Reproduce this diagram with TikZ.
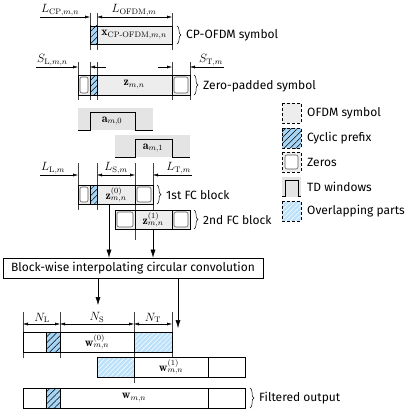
\documentclass[tikz,border=0pt]{standalone}
\usepackage{amsmath}
\usepackage{fontspec}
\setsansfont{Fira Sans}
\usepackage{tikz}
\usetikzlibrary{patterns.meta,decorations.pathreplacing,arrows.meta}

\definecolor{symgray}{HTML}{EDEDED}
\definecolor{wingray}{HTML}{E4E4E4}
\definecolor{cpblue}{HTML}{A6D5F5}
\definecolor{ovblue}{HTML}{BCE1FA}
\definecolor{zerogray}{HTML}{5A5A5A}

\tikzset{
  every node/.style={font=\fontsize{12}{14}\selectfont},
  block/.style={draw, line width=0.9pt},
  sep/.style={line width=0.5pt},
  tick/.style={line width=0.35pt, black!75},
  dim/.style={line width=0.4pt, arrows={-Latex[length=5pt,width=3pt]}},
  dimb/.style={line width=0.4pt, arrows={Latex[length=5pt,width=3pt]-Latex[length=5pt,width=3pt]}},
  flow/.style={line width=0.5pt, arrows={-Latex[length=8pt,width=5pt]}},
  cp/.style={fill=cpblue, postaction={pattern={Lines[angle=45,distance=4.3pt,line width=0.5pt]}, pattern color=black}},
  ovl/.style={fill=ovblue, postaction={pattern={Lines[angle=45,distance=3.4pt,line width=0.55pt]}, pattern color=white}},
  zero/.style={draw=zerogray, fill=white, rounded corners=2pt, line width=0.6pt},
  window/.style={line width=1pt},
  brc/.style={decorate, decoration={brace, amplitude=4pt}, line width=0.5pt},
  txt/.style={font=\sffamily\fontsize{12}{14}\selectfont, anchor=west, inner sep=0pt},
  legbox/.style={draw, line width=0.5pt, dash pattern=on 3pt off 2pt},
}

\begin{document}
\begin{tikzpicture}[x=1pt,y=-1pt]
\useasboundingbox (0,0) rectangle (407,420);

% ticks
\foreach \x in {90,97,172} \draw[tick] (\x,13) -- (\x,50);
\foreach \x in {78,90,97,172,190} \draw[tick] (\x,62) -- (\x,100);
\foreach \x in {78,97,153} \draw[tick] (\x,163) -- (\x,210);
\draw[tick] (135,163) -- (135,240);
\foreach \x in {23,60,172} \draw[tick] (\x,312) -- (\x,358);
\draw[tick] (134,312) -- (134,383);

% CP-OFDM symbol
\fill[symgray] (97,26) rectangle (172,44);
\path[cp] (90,26) rectangle (97,44);
\draw[block] (90,26) rectangle (172,44);
\draw[sep] (97,26) -- (97,44);
\node (xsym) at (134,35) {$\mathbf{x}_{\text{CP-OFDM},m,n}$};

\draw[dim] (40,17) -- (90,17);
\node[above right, inner sep=1pt] (lcp) at (40,17) {$L_{\mathrm{CP},m,n}$};
\draw[dimb] (97,17) -- (172,17);
\node[above, inner sep=1pt] (lofdm) at (134,17) {$L_{\mathrm{OFDM},m}$};

\draw[brc] (177,26) -- (177,44);
\node[txt] (cplbl) at (186,35) {CP-OFDM symbol};

% zero-padded symbol
\fill[symgray] (78,75) rectangle (190,95);
\path[cp] (90,75) rectangle (97,95);
\draw[zero] (80,77) rectangle (88,93);
\draw[zero] (174,77) rectangle (188,93);
\draw[block] (78,75) rectangle (190,95);
\draw[sep] (90,75) -- (90,95);
\draw[sep] (97,75) -- (97,95);
\draw[sep] (172,75) -- (172,95);
\node (zsym) at (134,85) {$\mathbf{z}_{m,n}$};

\draw[dim] (36,67) -- (78,67);
\node[above right, inner sep=1pt] (sl) at (36,67) {$S_{\mathrm{L},m,n}$};
\draw[dim] (106,67) -- (90,67);
\draw[dim] (158,67) -- (172,67);
\draw[dim] (224,67) -- (190,67);
\node[above left, inner sep=1pt] (st) at (224,67) {$S_{\mathrm{T},m}$};

\draw[brc] (194,75) -- (194,95);
\node[txt] (zplbl) at (203,86) {Zero-padded symbol};

% TD windows
\fill[wingray] (78,108) rectangle (153,130);
\draw[window] (78,130) -- (90,130) -- (90,112) -- (135,112) -- (135,130) -- (153,130);
\node (win0) at (112,121) {$\mathbf{a}_{m,0}$};
\fill[wingray] (115,135) rectangle (190,157);
\draw[window] (115,157) -- (135,157) -- (135,139) -- (172,139) -- (172,157) -- (190,157);
\node (win1) at (153,148) {$\mathbf{a}_{m,1}$};

% 1st FC block
\fill[symgray] (78,185) rectangle (153,204);
\path[cp] (90,185) rectangle (97,204);
\draw[zero] (80,187) rectangle (88,202);
\draw[zero] (137,187) rectangle (151,202);
\draw[block] (78,185) rectangle (153,204);
\draw[sep] (90,185) -- (90,204);
\draw[sep] (97,185) -- (97,204);
\draw[sep] (135,185) -- (135,204);
\node (fcz0) at (116,195) {$\mathbf{z}^{(0)}_{m,n}$};

\draw[dim] (40,175) -- (78,175);
\node[above right, inner sep=1pt] (ll) at (40,175) {$L_{\mathrm{L},m}$};
\draw[dimb] (97,175) -- (135,175);
\node[above, inner sep=1pt] (ls) at (116,175) {$L_{\mathrm{S},m}$};
\draw[dim] (192,175) -- (153,175);
\node[above left, inner sep=1pt] (lt) at (192,175) {$L_{\mathrm{T},m}$};

\draw[brc] (157,185) -- (157,204);
\node[txt] (fc1lbl) at (166,195) {1st FC block};

% 2nd FC block
\fill[symgray] (115,210) rectangle (190,229);
\draw[zero] (117,212) rectangle (133,227);
\draw[zero] (174,212) rectangle (188,227);
\draw[block] (115,210) rectangle (190,229);
\draw[sep] (135,210) -- (135,229);
\draw[sep] (172,210) -- (172,229);
\node (fcz1) at (153,220) {$\mathbf{z}^{(1)}_{m,n}$};

\draw[brc] (194,210) -- (194,229);
\node[txt] (fc2lbl) at (203,220) {2nd FC block};

% convolution
\node[draw, line width=0.6pt, minimum width=260pt, minimum height=20pt, inner sep=0pt,
      font=\sffamily\fontsize{12}{14}\selectfont] (conv) at (133,268)
      {Block-wise interpolating circular convolution};
\coordinate (fcA) at (109,204);
\coordinate (fcB) at (153,229);
\draw[flow] (fcA) -- (fcA |- conv.north);
\draw[flow] (fcB) -- (fcB |- conv.north);

\coordinate (wA) at (98,305);
\coordinate (wB) at (178,328);
\draw[flow] (conv.south -| wA) -- (wA);
\draw[flow] (conv.south -| wB) -- (wB);

% output blocks
\draw[dimb] (23,324) -- (60,324);
\node[above, inner sep=1pt] (nl) at (42,324) {$N_{\mathrm{L}}$};
\draw[dimb] (60,324) -- (134,324);
\node[above, inner sep=1pt] (ns) at (97,324) {$N_{\mathrm{S}}$};
\draw[dimb] (134,324) -- (172,324);
\node[above, inner sep=1pt] (nt) at (153,324) {$N_{\mathrm{T}}$};

\fill[white] (23,332) rectangle (172,352);
\path[cp] (46,332) rectangle (60,352);
\path[ovl] (134,332) rectangle (172,352);
\draw[block] (23,332) rectangle (172,352);
\draw[sep] (46,332) -- (46,352);
\draw[sep] (60,332) -- (60,352);
\draw[sep] (134,332) -- (134,352);
\node (w0) at (97,342) {$\mathbf{w}^{(0)}_{m,n}$};

\fill[white] (97,357) rectangle (245,377);
\path[ovl] (97,357) rectangle (134,377);
\draw[block] (97,357) rectangle (245,377);
\draw[sep] (134,357) -- (134,377);
\draw[sep] (208,357) -- (208,377);
\node (w1) at (171,367) {$\mathbf{w}^{(1)}_{m,n}$};

\fill[white] (23,388) rectangle (245,408);
\path[cp] (46,388) rectangle (60,408);
\draw[block] (23,388) rectangle (245,408);
\draw[sep] (46,388) -- (46,408);
\draw[sep] (60,388) -- (60,408);
\draw[sep] (208,388) -- (208,408);
\node (wout) at (134,398) {$\mathbf{w}_{m,n}$};

\draw[brc] (250,388) -- (250,408);
\node[txt] (outlbl) at (259,398) {Filtered output};

% legend
\draw[legbox, fill=symgray] (282,103) rectangle (301,123);
\node[txt] (legsym) at (307,113) {OFDM symbol};
\path[cp] (282,128) rectangle (301,148);
\draw[legbox] (282,128) rectangle (301,148);
\node[txt] (legcp) at (307,138) {Cyclic prefix};
\draw[legbox, fill=symgray] (282,152) rectangle (301,172);
\draw[zero] (285,155) rectangle (298,169);
\node[txt] (legzero) at (307,162) {Zeros};
\fill[wingray] (282,177) rectangle (301,197);
\draw[window] (282,196) -- (285,196) -- (285,180) -- (298,180) -- (298,196) -- (301,196);
\node[txt] (legwin) at (307,187) {TD windows};
\path[ovl] (282,201) rectangle (301,221);
\draw[legbox] (282,201) rectangle (301,221);
\node[txt] (legovl) at (307,211) {Overlapping parts};
\end{tikzpicture}
\end{document}
